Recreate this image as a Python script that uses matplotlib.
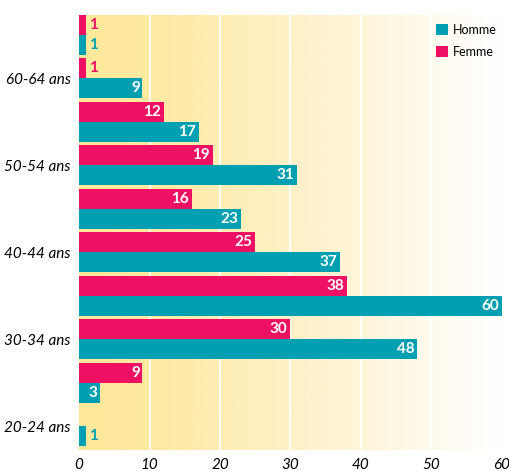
import numpy as np
from matplotlib import pyplot as plt
from matplotlib.colors import LinearSegmentedColormap

plt.rcParams['font.family'] = ['Lato', 'DejaVu Sans']

categories = ['20-24 ans', '25-29 ans', '30-34 ans', '35-39 ans', '40-44 ans',
              '45-49 ans', '50-54 ans', '55-59 ans', '60-64 ans', '65 ans et +']
homme = [1, 3, 48, 60, 37, 23, 31, 17, 9, 1]
femme = [0, 9, 30, 38, 25, 16, 19, 12, 1, 1]
shown_labels = ['20-24 ans', '30-34 ans', '40-44 ans', '50-54 ans', '60-64 ans']

teal = '#009FB1'
pink = '#EE1163'

fig = plt.figure(figsize=(5.1, 4.71), dpi=100)
ax = fig.add_axes([0.155, 0.0446, 0.829, 0.9236])

# background gradient
cmap = LinearSegmentedColormap.from_list('bg', [(0, '#FFE89A'), (0.18, '#FEEAA3'),
                                                (0.6, '#FEF3D2'), (1, '#FFFFFF')])
grad = np.linspace(0, 1, 256).reshape(1, -1)
ax.imshow(grad, cmap=cmap, aspect='auto', extent=[0, 60, -0.55, 9.46], zorder=0)

ax.set_xlim(0, 60)
ax.set_ylim(-0.55, 9.46)
for xv in range(10, 60, 10):
    ax.axvline(xv, color='white', lw=1.2, zorder=1)

y = np.arange(len(categories))
h = 0.46
ax.barh(y - h / 2, homme, height=h, color=teal, zorder=2, label='Homme')
ax.barh(y + h / 2, femme, height=h, color=pink, zorder=2, label='Femme')

def label(yy, v, col):
    if v == 0:
        return
    if v >= 3:
        ax.text(v - 0.4, yy, str(v), ha='right', va='center', color='white',
                fontsize=11, fontweight='bold', zorder=3)
    else:
        ax.text(v + 0.4, yy, str(v), ha='left', va='center', color=col,
                fontsize=11, fontweight='bold', zorder=3)

for i in range(len(categories)):
    label(y[i] - h / 2, homme[i], teal)
    label(y[i] + h / 2, femme[i], pink)

ax.set_yticks([categories.index(c) for c in shown_labels])
ax.set_yticklabels(shown_labels, fontsize=11, style='italic')
ax.set_xticks(range(0, 61, 10))
ax.set_xticklabels([str(v) for v in range(0, 61, 10)], fontsize=11, style='italic')
ax.tick_params(length=0, pad=6)
for s in ax.spines.values():
    s.set_visible(False)

ax.legend(loc='upper right', frameon=False, fontsize=9, handlelength=1.0,
          handleheight=1.0, handletextpad=0.4, labelspacing=0.8,
          bbox_to_anchor=(1.015, 1.005))

fig.savefig('out.png', dpi=100)
